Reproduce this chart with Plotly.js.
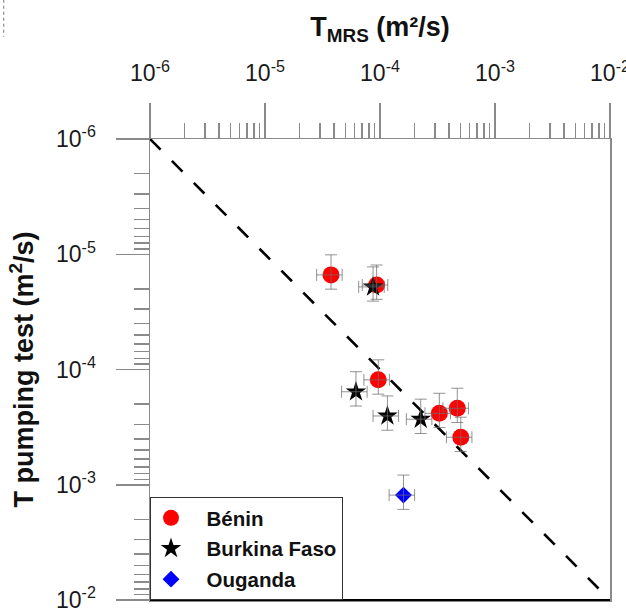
<!DOCTYPE html>
<html><head><meta charset="utf-8">
<script src="https://cdn.plot.ly/plotly-3.0.1.min.js"></script>
<style>html,body{margin:0;padding:0;background:#fff}</style>
</head><body><div id="chart" style="width:626px;height:613px"></div>
<script>
// Data (m²/s)
const beninX = [3.75e-5, 9.35e-5, 9.66e-5, 3.28e-4, 4.70e-4, 5.04e-4];
const beninY = [1.51e-5, 1.85e-5, 1.23e-4, 2.40e-4, 2.17e-4, 3.87e-4];
const burkinaX = [8.7e-5, 6.18e-5, 1.16e-4, 2.26e-4];
const burkinaY = [1.92e-5, 1.56e-4, 2.53e-4, 2.70e-4];
const ougandaX = [1.60e-4];
const ougandaY = [1.23e-3];
const errXPercent = 25;
const errYPercent = 33;
const oneToOneX = [1e-6, 1e-2];
const oneToOneY = [1e-6, 1e-2];
const seriesNames = ['Bénin', 'Burkina Faso', 'Ouganda'];
const decadeVals = [1e-6, 1e-5, 1e-4, 1e-3, 1e-2];
const decadeLabels = ['10<sup>-6</sup>', '10<sup>-5</sup>', '10<sup>-4</sup>', '10<sup>-3</sup>', '10<sup>-2</sup>'];

const minorVals = [];
for (let i = 0; i < decadeVals.length - 1; i++) {
  for (let k = 2; k <= 9; k++) minorVals.push(k * decadeVals[i]);
}

const FONT = 'Liberation Sans, Arial, sans-serif';
const GREY = '#8a8a8a';
const errStyle = {color: 'rgba(110,110,110,0.75)', thickness: 1, width: 6};

function errTrace(x, y) {
  return {
    x: x, y: y, type: 'scatter', mode: 'markers', showlegend: false, hoverinfo: 'skip',
    marker: {opacity: 0, size: 1},
    error_x: Object.assign({type: 'percent', value: errXPercent}, errStyle),
    error_y: Object.assign({type: 'percent', value: errYPercent}, errStyle)
  };
}

const nb = '\u00a0\u00a0\u2009';
const traces = [
  {x: oneToOneX, y: oneToOneY, type: 'scatter', mode: 'lines', showlegend: false, hoverinfo: 'skip',
   line: {color: '#000', width: 2.6, dash: '15px,16px'}},
  {x: beninX, y: beninY, type: 'scatter', mode: 'markers', name: nb + seriesNames[0], legendgroup: 'a',
   marker: {symbol: 'circle', size: 17, color: '#ff0000'}},
  {x: burkinaX, y: burkinaY, type: 'scatter', mode: 'markers', name: nb + seriesNames[1], legendgroup: 'b',
   marker: {symbol: 'star', size: 15.5, color: '#000000'}},
  {x: ougandaX, y: ougandaY, type: 'scatter', mode: 'markers', name: nb + seriesNames[2], legendgroup: 'c',
   marker: {symbol: 'diamond', size: 13, color: '#0000ff'}},
  errTrace(beninX, beninY),
  errTrace(burkinaX, burkinaY),
  errTrace(ougandaX, ougandaY)
];

const axisCommon = {
  type: 'log', showgrid: false, zeroline: false,
  showline: true, linecolor: GREY, linewidth: 1.5, mirror: true,
  ticks: 'outside', tickcolor: GREY, tickwidth: 1.5,
  tickmode: 'array', tickvals: decadeVals, ticktext: decadeLabels,
  ticklabeloverflow: 'allow',
  tickfont: {family: FONT, size: 23, color: '#1a1a1a'},
  minor: {tickmode: 'array', tickvals: minorVals, ticks: 'outside', ticklen: 15, tickcolor: GREY, tickwidth: 1.5, showgrid: false}
};

const layout = {
  width: 626, height: 613,
  margin: {l: 150, r: 16, t: 139, b: 13},
  paper_bgcolor: '#fff', plot_bgcolor: '#fff',
  showlegend: true,
  xaxis: Object.assign({}, axisCommon, {
    side: 'top', range: [-6, -2], ticklen: 35, ticklabelstandoff: 12,
    title: {text: 'T<sub>MRS</sub> (m²/s)', font: {family: FONT, size: 27, weight: 'bold', color: '#111'}, standoff: 12}
  }),
  yaxis: Object.assign({}, axisCommon, {
    range: [-2, -6], ticklen: 33, ticklabelstandoff: 15,
    title: {text: 'T pumping test (m<sup>2</sup>/s)', font: {family: FONT, size: 27, weight: 'bold', color: '#111'}, standoff: 14}
  }),
  legend: {
    x: 0, y: 0, xanchor: 'left', yanchor: 'bottom',
    bgcolor: '#fff', bordercolor: '#333', borderwidth: 1,
    font: {family: FONT, size: 20.5, weight: 'bold', color: '#111'},
    tracegroupgap: 1
  },
  shapes: [
    {type: 'line', xref: 'paper', yref: 'paper', x0: 0, x1: 1, y0: 0, y1: 0, line: {color: '#000', width: 2}},
    {type: 'line', xref: 'paper', yref: 'paper', x0: -0.318, x1: -0.318, y0: 1.302, y1: 1.222, line: {color: '#777', width: 1, dash: 'dot'}}
  ]
};

Plotly.newPlot('chart', traces, layout, {displayModeBar: false, staticPlot: true});
</script>
</body></html>
